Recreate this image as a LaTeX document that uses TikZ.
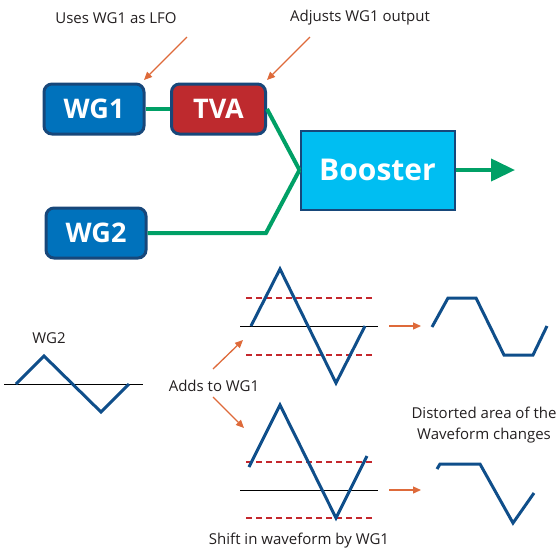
\documentclass[tikz,border=0pt]{standalone}
\usepackage{fontspec}
\setmainfont{Open Sans}
\usetikzlibrary{arrows.meta}
\definecolor{boxblue}{HTML}{0072BC}
\definecolor{edgeblue}{HTML}{17477A}
\definecolor{tvared}{HTML}{BE2A2E}
\definecolor{boostcyan}{HTML}{00BEF2}
\definecolor{wiregreen}{HTML}{00A066}
\definecolor{wavecol}{HTML}{0F4E8A}
\definecolor{dashred}{HTML}{C4272D}
\definecolor{noteorange}{HTML}{DE6A3A}
\definecolor{txt}{HTML}{231F20}
\tikzset{
  gbox/.style={draw=edgeblue,line width=3pt,rounded corners=8pt,fill=boxblue,
    text=white,font=\bfseries\fontsize{27}{27}\selectfont,inner sep=0pt},
  wire/.style={draw=wiregreen,line width=4pt},
  note/.style={draw=noteorange,line width=1.3pt,-{Triangle[length=8pt,width=7pt]}},
  lbl/.style={text=txt,font=\fontsize{15}{21}\selectfont,inner sep=0pt},
  wave/.style={draw=wavecol,line width=3pt,line join=miter},
  base/.style={draw=black,line width=1pt},
  limit/.style={draw=dashred,line width=1.5pt,dash pattern=on 6pt off 4pt},
}
\begin{document}
\begin{tikzpicture}[x=1pt,y=-1pt]
\useasboundingbox (0,0) rectangle (557,550);
% boxes
\node[gbox,minimum width=100pt,minimum height=50pt] (wg1) at (94,109) {WG1};
\node[gbox,fill=tvared,minimum width=94pt,minimum height=50pt] (tva) at (218.5,109) {TVA};
\node[gbox,minimum width=100pt,minimum height=50pt] (wg2) at (96,233) {WG2};
\node[draw=edgeblue,line width=2pt,fill=boostcyan,text=white,
  font=\bfseries\fontsize{30}{30}\selectfont,minimum width=154pt,minimum height=79pt,inner sep=0pt]
  (boost) at (377.5,170) {Booster};
\coordinate (out) at (515,170);
\coordinate (j) at (boost.west);
\coordinate (k) at (266,233);
% wires
\draw[wire] (wg1.east) -- (tva.west);
\draw[wire] (tva.east) -- (j);
\draw[wire,line join=miter] (wg2.east) -- (k) -- (j);
\draw[wire,-{Triangle[length=24pt,width=22pt]}] (boost.east) -- (out);
% notes
\node[lbl] (n1) at (116,18) {Uses WG1 as LFO};
\node[lbl] (n2) at (360,18) {Adjusts WG1 output};
\coordinate (n1s) at (187,37);
\coordinate (n1e) at (144,80);
\coordinate (n2s) at (310,37);
\coordinate (n2e) at (267,80);
\draw[note] (n1s) -- (n1e);
\draw[note] (n2s) -- (n2e);
% WG2 waveform
\node[lbl] (wg2l) at (49,338) {WG2};
\draw[base] (4,384) -- (143,384);
\draw[wave] (16,384) -- (44,356) -- (101,412) -- (129,384);
% adds to
\node[lbl] (adds) at (214,386) {Adds to WG1};
\coordinate (a1s) at (213,369);
\coordinate (a1e) at (243,340);
\coordinate (a2s) at (213,397);
\coordinate (a2e) at (244,428);
\draw[note] (a1s) -- (a1e);
\draw[note] (a2s) -- (a2e);
% top combined wave
\draw[limit] (246,298) -- (374,298);
\draw[limit] (246,355) -- (374,355);
\draw[base] (240,326) -- (378,326);
\draw[wave] (251,326) -- (280,269) -- (336,383) -- (365,326);
\coordinate (t1s) at (389,326);
\coordinate (t1e) at (421,326);
\draw[note] (t1s) -- (t1e);
\draw[wave] (432,327) -- (448,298) -- (476,298) -- (504,355) -- (533,355) -- (547,326);
% text
\node[lbl,align=center] (dist) at (484,425) {Distorted area of the\\Waveform changes};
% bottom combined wave
\draw[limit] (246,462) -- (374,462);
\draw[limit] (246,518) -- (374,518);
\draw[base] (240,490) -- (378,490);
\draw[wave] (249,467) -- (280,405) -- (336,518) -- (367,456);
\coordinate (t2s) at (389,490);
\coordinate (t2e) at (421,490);
\draw[note] (t2s) -- (t2e);
\draw[wave] (437,469) -- (440,464) -- (480,464) -- (513,523) -- (534,493);
\node[lbl] (shift) at (299,541) {Shift in waveform by WG1};
\end{tikzpicture}
\end{document}
